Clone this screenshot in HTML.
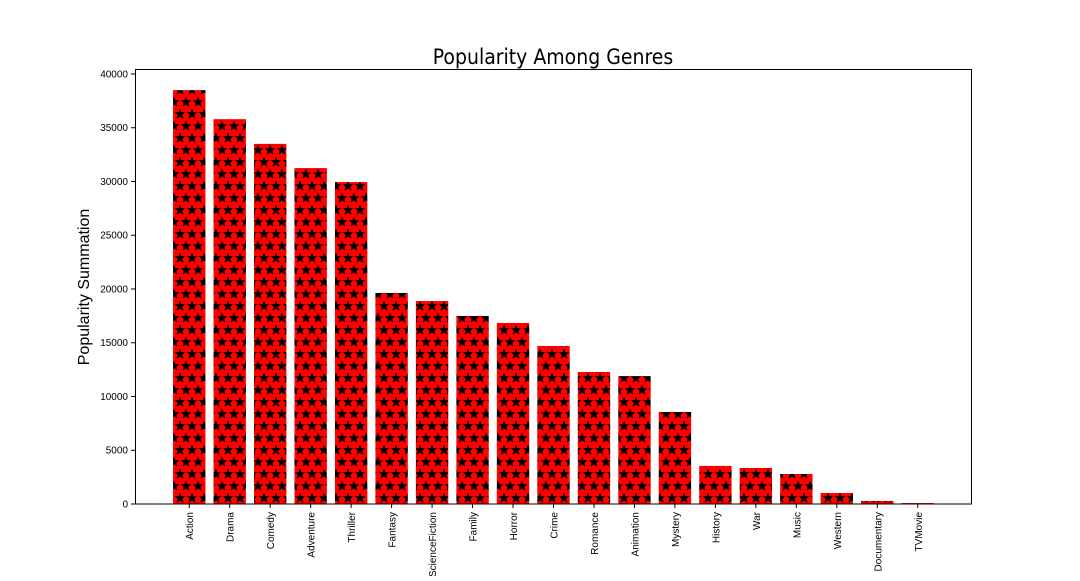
<!DOCTYPE html>
<html><head><meta charset="utf-8"><style>
body{margin:0;background:#fff;}
svg text{font-family:"Liberation Sans","DejaVu Sans",sans-serif;}
</style></head><body>
<svg id="chart" width="1080" height="576" xmlns="http://www.w3.org/2000/svg">
<defs>
<pattern id="stars" patternUnits="userSpaceOnUse" width="12" height="24" x="0" y="0">
<rect width="12" height="24" fill="#ff0000"/>
<polygon id="st" points="6,0.5 7.5,4.2 11.4,4.3 8.4,6.8 9.5,10.8 6,8.5 2.5,10.8 3.6,6.8 0.6,4.3 4.5,4.2" fill="#000"/>
<use href="#st" x="-6" y="12"/><use href="#st" x="6" y="12"/>
</pattern>
</defs>
<text x="553" y="64" text-anchor="middle" font-size="21" style="font-family:'Comic Sans MS','DejaVu Sans Condensed','Liberation Sans Narrow',sans-serif">Popularity Among Genres</text>
<text transform="translate(89,287) rotate(-90)" text-anchor="middle" font-size="16">Popularity Summation</text>
<g id="bars"></g>
<g id="axes"></g>
<rect x="135.5" y="69.5" width="836" height="434.5" fill="none" stroke="#000" stroke-width="1"/>
</svg>
<script>
const categories=["Action","Drama","Comedy","Adventure","Thriller","Fantasy","ScienceFiction","Family","Horror","Crime","Romance","Animation","Mystery","History","War","Music","Western","Documentary","TVMovie"];
const values=[38500,35800,33500,31250,29950,19630,18880,17490,16840,14700,12280,11900,8560,3540,3350,2790,1020,280,90];
const yTicks=[0,5000,10000,15000,20000,25000,30000,35000,40000];
const NS="http://www.w3.org/2000/svg";
const L=135,R=972,T=69,B=504;
const n=categories.length;
const xmin=-0.4-0.05*(n-0.2),xmax=n-1+0.4+0.05*(n-0.2);
const ymax=40465;
function xs(i){return L+(i-xmin)/(xmax-xmin)*(R-L);}
function ys(v){return B-v/ymax*(B-T);}
const bw=(xs(0.8)-xs(0));
const bars=document.getElementById('bars'),axes=document.getElementById('axes');
values.forEach((v,i)=>{
 const r=document.createElementNS(NS,'rect');
 r.setAttribute('x',xs(i)-bw/2);r.setAttribute('width',bw);
 r.setAttribute('y',ys(v));r.setAttribute('height',B-ys(v));
 r.setAttribute('fill','url(#stars)');
 
 
 bars.appendChild(r);
 const tk=document.createElementNS(NS,'line');
 tk.setAttribute('x1',xs(i));tk.setAttribute('x2',xs(i));tk.setAttribute('y1',B);tk.setAttribute('y2',B+4);tk.setAttribute('stroke','#000');
 
 
 axes.appendChild(tk);
 const t=document.createElementNS(NS,'text');
 t.setAttribute('transform','translate('+(xs(i)+4)+','+(B+8)+') rotate(-90)');
 t.setAttribute('text-anchor','end');t.setAttribute('font-size','10');
 t.textContent=categories[i];
 
 
 axes.appendChild(t);
});
yTicks.forEach(v=>{
 const y=ys(v);
 const tk=document.createElementNS(NS,'line');
 tk.setAttribute('x1',L-4);tk.setAttribute('x2',L);tk.setAttribute('y1',y);tk.setAttribute('y2',y);tk.setAttribute('stroke','#000');
 
 
 axes.appendChild(tk);
 const t=document.createElementNS(NS,'text');
 t.setAttribute('x',L-7);t.setAttribute('y',y+3.5);t.setAttribute('text-anchor','end');t.setAttribute('font-size','10');
 t.textContent=v;
 
 
 axes.appendChild(t);
});
</script>
</body></html>
